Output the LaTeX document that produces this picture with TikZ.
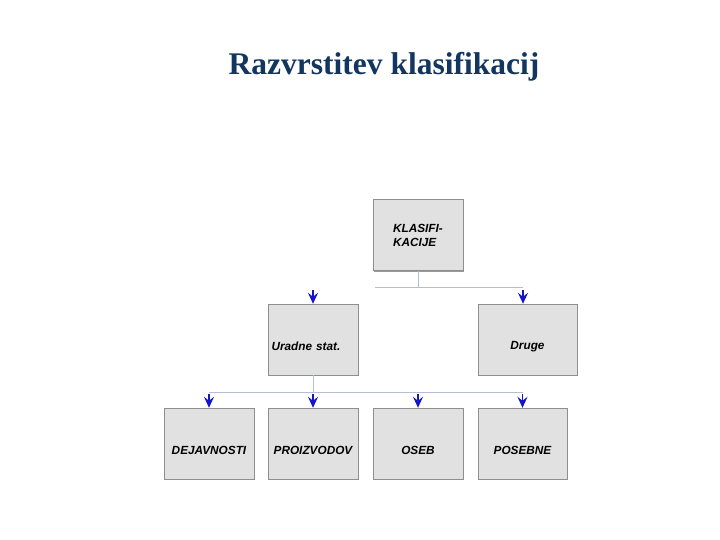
\documentclass[tikz,border=0pt]{standalone}
\usepackage{fontspec}
\setmainfont{Liberation Serif}
\newfontfamily\boxfont{Liberation Sans}
\usetikzlibrary{arrows.meta,shadows}
\definecolor{TitleNavy}{HTML}{12365F}
\definecolor{BoxFill}{HTML}{E1E1E1}
\definecolor{BoxEdge}{HTML}{8E8E8E}
\definecolor{LinkGrey}{HTML}{B4BCD6}
\definecolor{TipBlue}{HTML}{1414C8}

\begin{document}
\begin{tikzpicture}[x=1pt,y=-1pt,
    box/.style={draw=BoxEdge,fill=BoxFill,minimum width=90pt,minimum height=71pt,
      inner sep=0pt,font=\boxfont\bfseries\itshape\fontsize{11.8}{14}\selectfont,
      align=left,drop shadow={shadow xshift=1.2pt,shadow yshift=-1.2pt,fill=gray!80,opacity=1}},
    low/.style={text height=23pt},
    link/.style={draw=LinkGrey,line width=0.8pt},
    tip/.style={draw=TipBlue,line width=1.6pt,-{Stealth[length=11pt,width=10pt,inset=4pt,fill=TipBlue]}}]
    \useasboundingbox (0,0) rectangle (720,540);
    % title
    \node[font=\bfseries\fontsize{31.5}{36}\selectfont,text=TitleNavy] (title) at (384,67) {Razvrstitev klasifikacij};
    % boxes
    \node[box] (klas) at (418,235) {KLASIFI-\\KACIJE};
    \node[box,low,text width=83pt] (urad) at (313,339.5) {Uradne stat.};
    \node[box,low,minimum width=99pt] (druge) at (527.5,339.5) {Druge};
    \node[box,low] (dejav) at (209,443.5) {DEJAVNOSTI};
    \node[box,low] (proiz) at (313,443.5) {PROIZVODOV};
    \node[box,low] (oseb) at (418,443.5) {OSEB};
    \node[box,low,minimum width=89pt] (poseb) at (522.5,443.5) {POSEBNE};
    % connectors
    \coordinate (k1) at (375,287);
    \coordinate (k2) at (523,287);
    \coordinate (u1) at (209,392);
    \coordinate (u2) at (523,392);
    \draw[link] (klas.south) -- (klas.south |- k1);
    \draw[link] (k1) -- (k2);
    \draw[link] (urad.south) -- (urad.south |- u1);
    \draw[link] (u1) -- (u2);
    \draw[tip] ([yshift=14pt]urad.north) -- (urad.north);
    \draw[tip] ([xshift=-4.5pt,yshift=14pt]druge.north) -- ([xshift=-4.5pt]druge.north);
    \foreach \n in {dejav,proiz,oseb} {
      \draw[tip] ([yshift=14pt]\n.north) -- (\n.north);
    }
    \draw[tip] ([yshift=14pt]poseb.north) -- (poseb.north);
\end{tikzpicture}
\end{document}
